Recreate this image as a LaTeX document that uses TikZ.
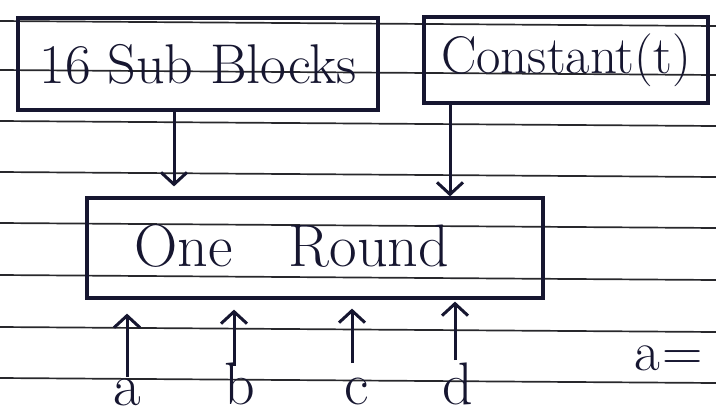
\documentclass[tikz,border=0pt]{standalone}
\usetikzlibrary{arrows.meta}
\definecolor{ink}{RGB}{22,22,48}
\definecolor{ruling}{RGB}{40,40,44}
\begin{document}
\begin{tikzpicture}[x=1pt,y=-1pt,
  box/.style={draw=ink, line width=3.2pt, inner sep=0pt},
  rule/.style={draw=ruling, line width=1.7pt},
  arr/.style={draw=ink, line width=3pt,
    -{Straight Barb[length=12pt,width=26pt,line width=3pt]}},
  hand/.style={text=ink, inner sep=0pt, font=\fontsize{#1}{#1}\selectfont}]
\useasboundingbox (0,0) rectangle (716,416);
\clip (0,0) rectangle (716,416);
\fill[white] (0,0) rectangle (716,416);

% ruled notebook lines, sloping slightly downwards to the right
\foreach \ly in {21,70,121,172,223,275,327,378}
  \draw[rule] (0,\ly) -- (716,\ly+5);

% blocks
\node[box, minimum width=360pt, minimum height=92pt, hand=56] (b1) at (198,64)
  {16 Sub Blocks};
\node[box, minimum width=284pt, minimum height=86pt, hand=53] (b2) at (566,60)
  {Constant(t)};
\node[box, minimum width=456pt, minimum height=100pt] (round) at (315,248) {};
\node[hand=60, anchor=base] (rt) at (292,266) {One\hspace{56pt}Round};

% inputs from above
\draw[arr, shorten >=10pt] (b1.south -| 174,0) -- (round.north -| 174,0);
\draw[arr] (b2.south -| 450,0) -- (round.north -| 450,0);

% input words below
\node[hand=60, anchor=base] (la) at (127,405) {a};
\node[hand=60, anchor=base] (lb) at (240,404) {b};
\node[hand=60, anchor=base] (lc) at (357,404) {c};
\node[hand=60, anchor=base] (ld) at (458,404) {d};
\coordinate (ta) at (127,377);
\coordinate (tb) at (234,366);
\coordinate (tc) at (352,363);
\coordinate (td) at (455,360);
\draw[arr, shorten >=14pt] (ta) -- (round.south -| ta);
\draw[arr, shorten >=10pt] (tb) -- (round.south -| tb);
\draw[arr, shorten >=9pt]  (tc) -- (round.south -| tc);
\draw[arr, shorten >=2pt]  (td) -- (round.south -| td);

% start of the next line of notes
\node[hand=56, anchor=base west] (eq) at (634,370) {a\hspace{3pt}=};
\end{tikzpicture}
\end{document}
